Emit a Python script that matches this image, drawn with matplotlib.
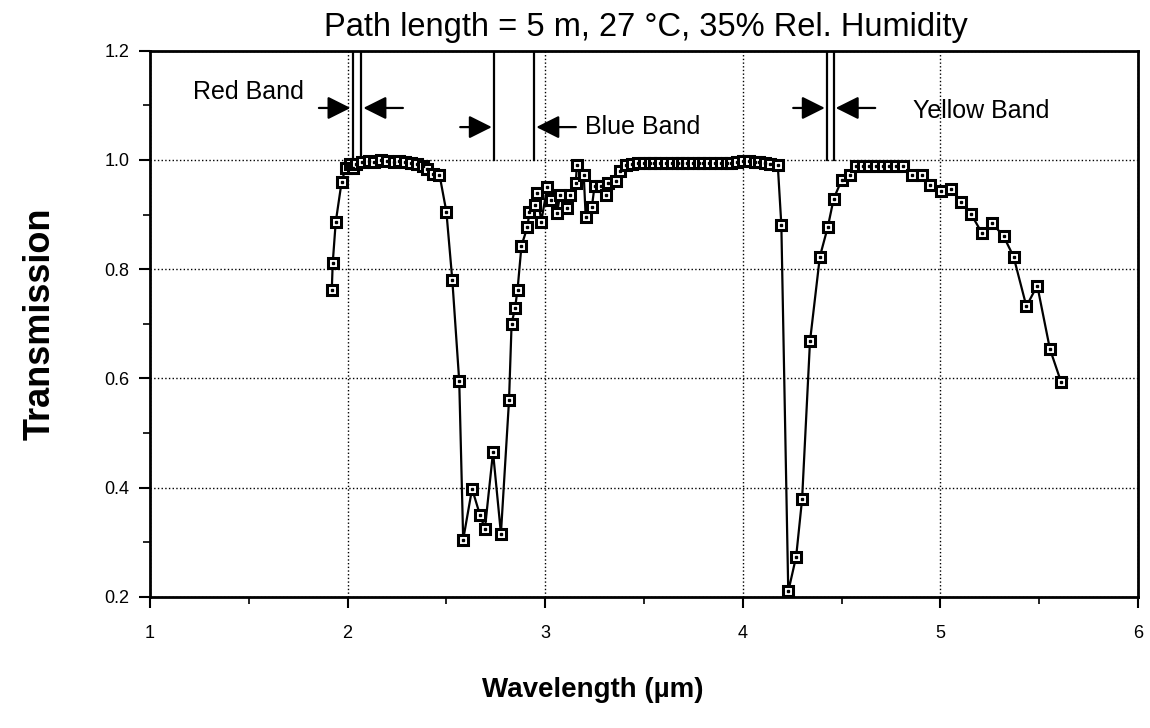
import matplotlib
matplotlib.use("Agg")
import matplotlib.pyplot as plt
from matplotlib.ticker import MultipleLocator, FormatStrFormatter

plt.rcParams['font.family'] = ['Liberation Sans', 'DejaVu Sans']

# measured transmission spectrum (wavelength in um)
wavelength = [
    1.92, 1.925, 1.94, 1.97, 1.99, 2.01, 2.025, 2.045, 2.075, 2.11,
    2.135, 2.17, 2.20, 2.235, 2.26, 2.29, 2.32, 2.35, 2.38, 2.40,
    2.43, 2.465, 2.50, 2.53, 2.565, 2.585, 2.63, 2.67, 2.695, 2.736,
    2.776, 2.817, 2.83, 2.847, 2.86, 2.88, 2.91, 2.92, 2.95, 2.96,
    2.98, 3.01, 3.03, 3.06, 3.075, 3.11, 3.125, 3.155, 3.16, 3.195,
    3.205, 3.236, 3.25, 3.28, 3.31, 3.32, 3.36, 3.38, 3.41, 3.44,
    3.47, 3.50, 3.53, 3.55, 3.58, 3.61, 3.64, 3.67, 3.69, 3.72,
    3.75, 3.78, 3.80, 3.83, 3.86, 3.89, 3.92, 3.94, 3.97, 4.00,
    4.03, 4.06, 4.08, 4.11, 4.14, 4.177, 4.195, 4.23, 4.27, 4.30,
    4.34, 4.39, 4.43, 4.46, 4.50, 4.54, 4.575, 4.61, 4.64, 4.675,
    4.71, 4.74, 4.775, 4.81, 4.855, 4.905, 4.948, 5.003, 5.054, 5.104,
    5.155, 5.21, 5.26, 5.32, 5.37, 5.435, 5.49, 5.554, 5.61,
]
transmission = [
    0.762, 0.812, 0.886, 0.960, 0.985, 0.992, 0.985, 0.993, 0.996, 0.998,
    0.997, 1.000, 0.998, 0.997, 0.998, 0.996, 0.994, 0.992, 0.988, 0.983,
    0.975, 0.973, 0.905, 0.780, 0.595, 0.305, 0.398, 0.350, 0.325, 0.465,
    0.316, 0.560, 0.700, 0.728, 0.762, 0.843, 0.877, 0.905, 0.918, 0.940,
    0.887, 0.950, 0.926, 0.902, 0.936, 0.912, 0.936, 0.958, 0.990, 0.973,
    0.895, 0.913, 0.953, 0.953, 0.935, 0.958, 0.962, 0.980, 0.990, 0.993,
    0.994, 0.994, 0.994, 0.994, 0.994, 0.994, 0.994, 0.994, 0.994, 0.994,
    0.994, 0.994, 0.994, 0.994, 0.994, 0.994, 0.995, 0.995, 0.997, 0.998,
    0.998, 0.997, 0.996, 0.994, 0.993, 0.990, 0.881, 0.210, 0.274, 0.379,
    0.668, 0.823, 0.877, 0.929, 0.963, 0.973, 0.988, 0.988, 0.988, 0.988,
    0.988, 0.988, 0.988, 0.988, 0.973, 0.973, 0.954, 0.943, 0.947, 0.923,
    0.901, 0.866, 0.885, 0.860, 0.823, 0.732, 0.770, 0.654, 0.594,
]

# filter bands: edges (um) and arrow height
band_names = ['Red Band', 'Blue Band', 'Yellow Band']
band_edges = [(2.025, 2.07), (2.74, 2.945), (4.425, 4.46)]
arrow_y = [1.095, 1.06, 1.095]

fig = plt.figure(figsize=(11.5, 7.28), dpi=100)
ax = fig.add_axes([0.1304, 0.18, 0.8592, 0.7505])

ax.plot(wavelength, transmission, color='black', lw=1.6, marker='s', ms=7.5,
        mfc='white', mec='black', mew=2.2, zorder=3)
ax.plot(wavelength, transmission, ls='none', marker='s', ms=2, color='black', zorder=4)

for (lo, hi), ya in zip(band_edges, arrow_y):
    for xe in (lo, hi):
        ax.plot([xe, xe], [1.0, 1.2], color='black', lw=1.6, zorder=2)
    aprops = dict(arrowstyle='-|>,head_length=1.4,head_width=0.7', color='black',
                  lw=1.6, shrinkA=0, shrinkB=0)
    ax.annotate('', xy=(lo - 0.01, ya), xytext=(lo - 0.17, ya), arrowprops=aprops)
    ax.annotate('', xy=(hi + 0.01, ya), xytext=(hi + 0.21, ya), arrowprops=aprops)

ax.text(1.22, 1.124, band_names[0], fontsize=18, va='center', ha='left')
ax.text(3.2, 1.06, band_names[1], fontsize=18, va='center', ha='left')
ax.text(4.86, 1.09, band_names[2], fontsize=18, va='center', ha='left')

ax.set_xlim(1, 6)
ax.set_ylim(0.2, 1.2)
ax.xaxis.set_major_locator(MultipleLocator(1))
ax.xaxis.set_minor_locator(MultipleLocator(0.5))
ax.yaxis.set_major_locator(MultipleLocator(0.2))
ax.yaxis.set_minor_locator(MultipleLocator(0.1))
ax.yaxis.set_major_formatter(FormatStrFormatter('%.1f'))
ax.tick_params(which='major', direction='out', length=8, width=1.5, labelsize=13)
ax.tick_params(axis='x', which='major', pad=12)
ax.tick_params(axis='y', which='major', pad=7)
ax.tick_params(which='minor', direction='out', length=5, width=1.2)
ax.grid(True, which='major', color='black', ls=':', lw=1.0)
for sp in ax.spines.values():
    sp.set_linewidth(2)

fig.text(0.562, 0.962, 'Path length = 5 m, 27 °C, 35% Rel. Humidity', fontsize=23.5,
         ha='center', va='center')
fig.text(0.515, 0.052, 'Wavelength (µm)', fontsize=20, fontweight='bold',
         ha='center', va='center')
fig.text(0.035, 0.555, 'Transmission', fontsize=26, fontweight='bold',
         rotation=90, ha='center', va='center')

fig.savefig('out.png', dpi=100)
